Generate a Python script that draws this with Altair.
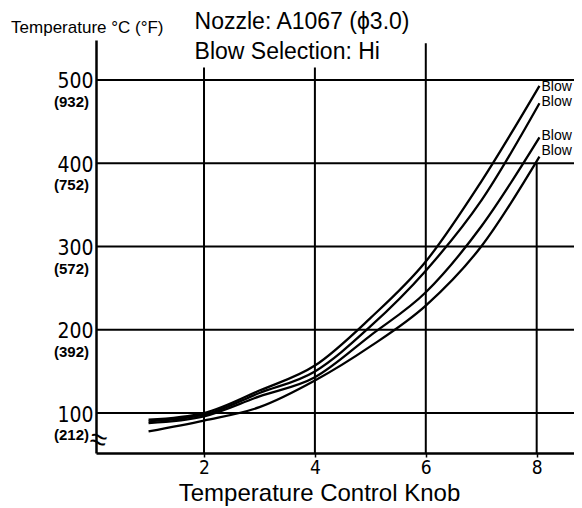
import altair as alt
import pandas as pd

# ---- data ----
knob = [1, 2, 3, 4, 5, 6, 7, 8.05]
blow_a = [92, 100, 127, 157, 214, 282, 378, 493]
blow_b = [90, 98, 124, 150, 204, 271, 355, 472]
blow_c = [88, 96, 120, 143, 193, 245, 324, 431]
blow_d = [78, 91, 107, 139, 180, 229, 300, 408]
series_names = ["Blow 1", "Blow 2", "Blow 3", "Blow 4"]
end_label_text = ["Blow", "Blow", "Blow", "Blow"]
end_label_y = [492, 474, 433, 415]

celsius_ticks = [100, 200, 300, 400, 500]
fahrenheit_labels = ["(212)", "(392)", "(572)", "(752)", "(932)"]
knob_ticks = [2, 4, 6, 8]
vgrid_top = [515, 515, 544, 400]

X_DOMAIN = [0.052, 8.673]
Y_DOMAIN = [52, 548]

NARROW = "Liberation Sans Narrow, DejaVu Sans Condensed, sans-serif"
SANS = "Liberation Sans, Arial, sans-serif"

rows = []
for name, vals in zip(series_names, [blow_a, blow_b, blow_c, blow_d]):
    for k, v in zip(knob, vals):
        rows.append({"series": name, "knob": k, "temp": v})
lines_df = pd.DataFrame(rows)

ends_df = pd.DataFrame({"series": series_names, "knob": [knob[-1]] * 4,
                        "temp": end_label_y, "text": end_label_text})
hgrid_df = pd.DataFrame({"temp": celsius_ticks})
vgrid_df = pd.DataFrame({"knob": knob_ticks, "y0": [Y_DOMAIN[0]] * 4, "y1": vgrid_top})
fahr_df = pd.DataFrame({"knob": [X_DOMAIN[0]] * 5, "temp": celsius_ticks, "text": fahrenheit_labels})
titles_df = pd.DataFrame({
    "knob": [1.83, 1.83],
    "temp": [570, 533],
    "text": ["Nozzle: A1067 (\u03d53.0)", "Blow Selection: Hi"],
})
ylab_df = pd.DataFrame({"knob": [-1.48], "temp": [562], "text": ["Temperature \u00b0C (\u00b0F)"]})
brk_df = pd.DataFrame({"knob": [X_DOMAIN[0] + 0.04], "temp": [67], "text": ["\u2248"]})

xs = alt.Scale(domain=X_DOMAIN, zero=False, nice=False)
ys = alt.Scale(domain=Y_DOMAIN, zero=False, nice=False)

x_axis = alt.Axis(values=knob_ticks, format="d", grid=False, tickSize=4, tickWidth=1.5,
                  tickColor="black", domainColor="black", domainWidth=2.5, labelFont=NARROW,
                  labelFontSize=19, labelColor="black", labelPadding=1,
                  title="Temperature Control Knob", titleFont=SANS, titleFontSize=24,
                  titleFontWeight="normal", titleColor="black", titleX=223, titleY=40,
                  titleAlign="center", titleBaseline="middle")
y_axis = alt.Axis(values=celsius_ticks, grid=False, ticks=False, domainColor="black",
                  domainWidth=2.5, labelFont=NARROW, labelFontSize=21, labelColor="black",
                  labelPadding=3, labelBaseline="middle", labelOffset=2, title=None)

hgrid = alt.Chart(hgrid_df).mark_rule(color="black", strokeWidth=2).encode(
    y=alt.Y("temp:Q", scale=ys, axis=y_axis))
vgrid = alt.Chart(vgrid_df).mark_rule(color="black", strokeWidth=2).encode(
    x=alt.X("knob:Q", scale=xs, axis=x_axis),
    y=alt.Y("y0:Q", scale=ys), y2="y1:Q")
lines = alt.Chart(lines_df).mark_line(strokeWidth=2.3, interpolate="monotone").encode(
    x=alt.X("knob:Q", scale=xs),
    y=alt.Y("temp:Q", scale=ys),
    detail="series:N",
    color=alt.value("black"))
ends = alt.Chart(ends_df).mark_text(align="left", baseline="middle", dx=2, font=SANS,
                                     fontSize=14, color="black").encode(
    x=alt.X("knob:Q", scale=xs), y=alt.Y("temp:Q", scale=ys), text="text:N")
fahr = alt.Chart(fahr_df).mark_text(align="right", baseline="middle", dx=-7, dy=22, font=SANS,
                                     fontSize=15, fontWeight="bold", color="black").encode(
    x=alt.X("knob:Q", scale=xs), y=alt.Y("temp:Q", scale=ys), text="text:N")
titles = alt.Chart(titles_df).mark_text(align="left", baseline="middle", font=SANS,
                                         fontSize=23, color="black").encode(
    x=alt.X("knob:Q", scale=xs), y=alt.Y("temp:Q", scale=ys), text="text:N")
ylab = alt.Chart(ylab_df).mark_text(align="left", baseline="middle", font=SANS,
                                     fontSize=17, color="black").encode(
    x=alt.X("knob:Q", scale=xs), y=alt.Y("temp:Q", scale=ys), text="text:N")
brk = alt.Chart(brk_df).mark_text(align="center", baseline="middle", font=SANS,
                                   fontSize=30, color="black", angle=15).encode(
    x=alt.X("knob:Q", scale=xs), y=alt.Y("temp:Q", scale=ys), text="text:N")

chart = alt.layer(hgrid, vgrid, lines, ends, fahr, titles, ylab, brk).properties(
    width=478, height=413,
    autosize=alt.AutoSizeParams(type="none"),
    padding={"left": 88, "top": 32, "right": 0, "bottom": 55},
    background="white",
).configure_view(stroke=None)

chart.save("out.html", embed_options={"renderer": "svg", "actions": False})
